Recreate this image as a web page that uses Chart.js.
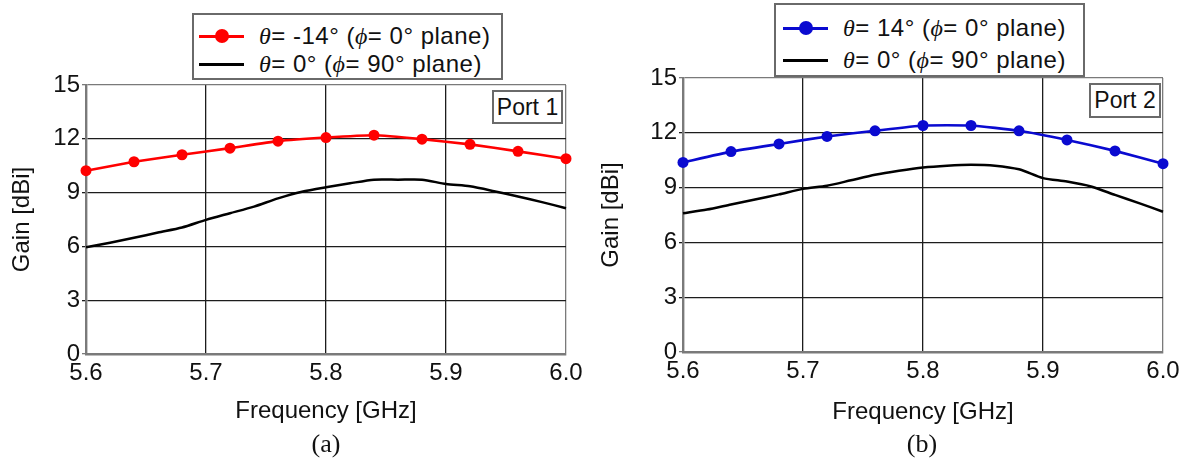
<!DOCTYPE html>
<html>
<head>
<meta charset="utf-8">
<script src="https://cdn.jsdelivr.net/npm/chart.js@4.4.1/dist/chart.umd.min.js"></script>
<style>
  html, body { margin: 0; padding: 0; background: #fff; }
  body { width: 1187px; height: 464px; position: relative; overflow: hidden;
         font-family: 'Liberation Sans', Arial, sans-serif; color: #111; }
  canvas { position: absolute; top: 0; }
  .legend { position: absolute; border: 2px solid #6a6a6a; background: #fff; box-sizing: border-box; }
  .row { position: absolute; left: 0; height: 30px; display: flex; align-items: center;
         white-space: nowrap; font-size: 24px; }
  .sample { position: relative; width: 45px; height: 30px; flex: none; }
  .sample .ln { position: absolute; left: 0; right: 0; top: 13.5px; height: 3px; }
  .sample .dot { position: absolute; left: 16px; top: 8px; width: 14px; height: 14px; border-radius: 50%; }
  .txt { margin-left: 15px; letter-spacing: 0.5px; }
  .g { font-family: 'Liberation Serif', 'Times New Roman', serif; font-style: italic; }
  .port { position: absolute; border: 2px solid #6a6a6a; background: #fff; font-size: 23px;
          box-sizing: border-box; display: flex; align-items: center; justify-content: center; }
  .cap { position: absolute; font-family: 'Liberation Serif', 'Times New Roman', serif;
         font-size: 26px; transform: translateX(-50%); line-height: 1; }
</style>
</head>
<body>
<canvas id="c1" width="593" height="464" style="left:0px"></canvas>
<canvas id="c2" width="593" height="464" style="left:594px"></canvas>

<div class="legend" style="left:192px;top:13px;width:311px;height:67px;">
  <div class="row" style="top:6px;left:5px;">
    <div class="sample"><div class="ln" style="background:#ff0000"></div><div class="dot" style="background:#ff0000"></div></div>
    <span class="txt" id="l1a"></span>
  </div>
  <div class="row" style="top:34px;left:5px;">
    <div class="sample"><div class="ln" style="background:#000"></div></div>
    <span class="txt" id="l1b"></span>
  </div>
</div>

<div class="legend" style="left:774px;top:3px;width:311px;height:74px;">
  <div class="row" style="top:8px;left:7px;">
    <div class="sample"><div class="ln" style="background:#0a0ad0"></div><div class="dot" style="background:#0a0ad0"></div></div>
    <span class="txt" id="l2a"></span>
  </div>
  <div class="row" style="top:40px;left:7px;">
    <div class="sample"><div class="ln" style="background:#000"></div></div>
    <span class="txt" id="l2b"></span>
  </div>
</div>

<div class="port" style="left:492px;top:90px;width:71px;height:34px;">Port 1</div>
<div class="port" style="left:1089px;top:83px;width:72px;height:35px;">Port 2</div>

<div class="cap" style="left:326px;top:431px;">(a)</div>
<div class="cap" style="left:922px;top:431px;">(b)</div>

<script>
// ---------- data ----------
const markerFreqs = [5.60, 5.64, 5.68, 5.72, 5.76, 5.80, 5.84, 5.88, 5.92, 5.96, 6.00];
const lineFreqs = [5.60, 5.62, 5.64, 5.66, 5.68, 5.70, 5.72, 5.74, 5.76, 5.78, 5.80,
                   5.82, 5.84, 5.86, 5.88, 5.90, 5.92, 5.94, 5.96, 5.98, 6.00];

const port1ThetaM14 = [10.22, 10.72, 11.11, 11.48, 11.87, 12.07, 12.20, 11.98, 11.69, 11.30, 10.89];
const port1Theta0   = [5.95, 6.20, 6.48, 6.77, 7.05, 7.48, 7.85, 8.22, 8.68, 9.05, 9.30,
                       9.52, 9.72, 9.72, 9.72, 9.48, 9.35, 9.08, 8.78, 8.47, 8.13];

const port2Theta14  = [10.38, 10.97, 11.39, 11.80, 12.11, 12.40, 12.40, 12.11, 11.61, 11.01, 10.31];
const port2Theta0   = [7.59, 7.80, 8.08, 8.35, 8.63, 8.93, 9.10, 9.40, 9.70, 9.92, 10.10,
                       10.20, 10.25, 10.20, 10.00, 9.52, 9.33, 9.06, 8.60, 8.15, 7.68];

const xTickValues = [5.6, 5.7, 5.8, 5.9, 6.0];
const xTickLabels = ['5.6', '5.7', '5.8', '5.9', '6.0'];
const yTickValues = [0, 3, 6, 9, 12, 15];
const yTickLabels = ['0', '3', '6', '9', '12', '15'];

const legendLabels1 = ['<span class="g">θ</span>= -14° (<span class="g">ϕ</span>= 0° plane)',
                       '<span class="g">θ</span>= 0° (<span class="g">ϕ</span>= 90° plane)'];
const legendLabels2 = ['<span class="g">θ</span>= 14° (<span class="g">ϕ</span>= 0° plane)',
                       '<span class="g">θ</span>= 0° (<span class="g">ϕ</span>= 90° plane)'];
const xTitle = 'Frequency [GHz]';
const yTitle = 'Gain [dBi]';

document.getElementById('l1a').innerHTML = legendLabels1[0];
document.getElementById('l1b').innerHTML = legendLabels1[1];
document.getElementById('l2a').innerHTML = legendLabels2[0];
document.getElementById('l2b').innerHTML = legendLabels2[1];

// ---------- chart ----------
Chart.defaults.font.family = "'Liberation Sans', Arial, sans-serif";
Chart.defaults.color = '#111';

function pts(xs, ys) { return xs.map((x, i) => ({ x: x, y: ys[i] })); }

function makeChart(id, markerVals, lineVals, markerColor, g) {
  const edgeColor = (ctx, lo, hi) => {
    const v = ctx.tick ? ctx.tick.value : null;
    return (v === lo || v === hi) ? '#7a7a7a' : '#1c1c1c';
  };
  return new Chart(document.getElementById(id), {
    type: 'line',
    data: {
      datasets: [
        { data: pts(lineFreqs, lineVals), borderColor: '#000', borderWidth: 2.5,
          pointRadius: 0, tension: 0.25, clip: false },
        { data: pts(markerFreqs, markerVals), borderColor: markerColor, backgroundColor: markerColor,
          borderWidth: 2.6, pointRadius: 5.5, pointBorderWidth: 0, tension: 0.15, clip: false }
      ]
    },
    options: {
      responsive: false, animation: false, devicePixelRatio: 1,
      layout: { padding: { left: 0, right: g.padRight, top: g.top, bottom: 34 } },
      plugins: { legend: { display: false }, tooltip: { enabled: false } },
      scales: {
        x: {
          type: 'linear', min: 5.6, max: 6.0,
          afterBuildTicks: s => { s.ticks = xTickValues.map(v => ({ value: v })); },
          afterFit: s => { s.height = 430 - g.bottom; },
          ticks: { callback: (v, i) => xTickLabels[i], font: { size: 24 }, padding: 5, maxRotation: 0, autoSkip: false },
          grid: { color: c => edgeColor(c, 5.6, 6.0), lineWidth: 1.3, drawTicks: false },
          border: { display: true, color: '#7a7a7a', width: 2.4 },
          title: { display: true, text: xTitle, font: { size: 24 }, padding: { top: 0, bottom: g.xtPad } }
        },
        y: {
          min: 0, max: 15,
          afterBuildTicks: s => { s.ticks = yTickValues.map(v => ({ value: v })); },
          afterFit: s => { s.width = g.yWidth; },
          ticks: { callback: (v, i) => yTickLabels[i], font: { size: 24 }, padding: 2 },
          grid: { color: c => edgeColor(c, 0, 15), lineWidth: 1.3, drawTicks: true, tickLength: 4 },
          border: { display: true, color: '#7a7a7a', width: 2.4 },
          title: { display: true, text: yTitle, font: { size: 24 }, padding: { top: g.ytPad, bottom: 0 } }
        }
      }
    }
  });
}

makeChart('c1', port1ThetaM14, port1Theta0, '#ff0000',
  { padRight: 27, top: 85, bottom: 354, yWidth: 86, xtPad: 4.6, ytPad: 7.6 });
makeChart('c2', port2Theta14, port2Theta0, '#0a0ad0',
  { padRight: 24, top: 78, bottom: 352, yWidth: 89, xtPad: 3.6, ytPad: 2.6 });
</script>
</body>
</html>
